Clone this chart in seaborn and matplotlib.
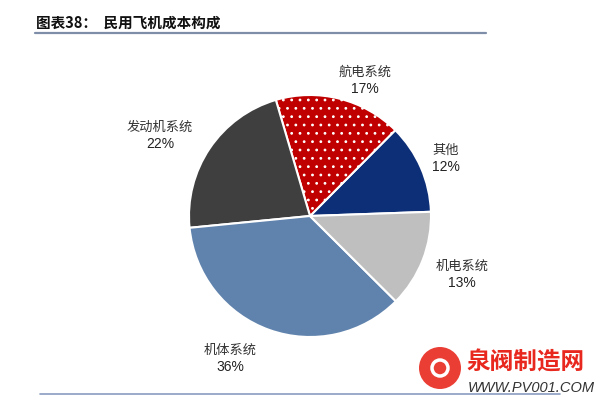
import matplotlib
matplotlib.use("Agg")
import matplotlib.pyplot as plt
import seaborn as sns
from matplotlib.patches import Circle

sns.set_theme(style="white")
plt.rcParams["font.family"] = ["Noto Sans CJK SC", "DejaVu Sans"]
plt.rcParams["hatch.color"] = "white"
plt.rcParams["hatch.linewidth"] = 0.8

# Cost structure of a civil aircraft (share, %)
categories = ["其他", "航电系统", "发动机系统", "机体系统", "机电系统"]
shares = [12, 17, 22, 36, 13]
colors = ["#0c2f78", "#c00000", "#3f3f3f", "#6083ad", "#bfbfbf"]
hatches = [None, "..", None, None, None]

W, H = 603, 403
fig = plt.figure(figsize=(W / 100, H / 100), dpi=100)
fig.patch.set_facecolor("white")

# pie geometry in pixels
cx, cy, r = 310, 216, 121
ax = fig.add_axes([(cx - r) / W, (H - cy - r) / H, 2 * r / W, 2 * r / H])

wedges, _ = ax.pie(shares, colors=colors, startangle=2, counterclock=True,
                   radius=1.0, wedgeprops=dict(edgecolor="white", linewidth=1.5))
for w, h in zip(wedges, hatches):
    if h:
        w.set_hatch(h)
ax.set_xlim(-1, 1)
ax.set_ylim(-1, 1)
ax.set_aspect("equal")
ax.axis("off")

# label anchor points (pixels)
label_px = [(446, 150), (365, 72), (160, 127), (230, 350), (462, 266)]
for name, val, (px, py) in zip(categories, shares, label_px):
    x = (px - cx) / r
    y = (cy - py) / r
    ax.text(x, y, name, ha="center", va="center", fontsize=9.5, color="#333333")
    ax.text(x, y - 17 / r, f"{val}%", ha="center", va="center", fontsize=10,
            color="#222222", family=["Liberation Sans", "DejaVu Sans"])

# title and rules
fig.text(36 / W, 1 - 23 / H, "图表38：  民用飞机成本构成", fontsize=10.5,
         fontweight="bold", color="#111111", ha="left", va="center")
fig.add_artist(plt.Line2D([35 / W, 486 / W], [1 - 33 / H, 1 - 33 / H],
                          color="#7f8ea8", linewidth=1.6, transform=fig.transFigure))
fig.add_artist(plt.Line2D([40 / W, 560 / W], [1 - 394 / H, 1 - 394 / H],
                          color="#8a9cc0", linewidth=1.2, transform=fig.transFigure))

# site mark in the lower right corner
fig.add_artist(Circle((440, H - 368), 21, transform=None, facecolor="#e8281e",
                      edgecolor="none", alpha=0.9))
fig.add_artist(Circle((440, H - 368), 8, transform=None, facecolor="none",
                      edgecolor="white", linewidth=2.5))
fig.text(466 / W, 1 - 362 / H, "泉阀制造网", fontsize=17, fontweight="bold",
         color="#e8281e", ha="left", va="center")
fig.text(468 / W, 1 - 388 / H, "WWW.PV001.COM", fontsize=10.5, style="italic",
         color="#333333", ha="left", va="center",
         family=["Liberation Sans", "DejaVu Sans"])

fig.savefig("out.png", dpi=100, facecolor="white")
